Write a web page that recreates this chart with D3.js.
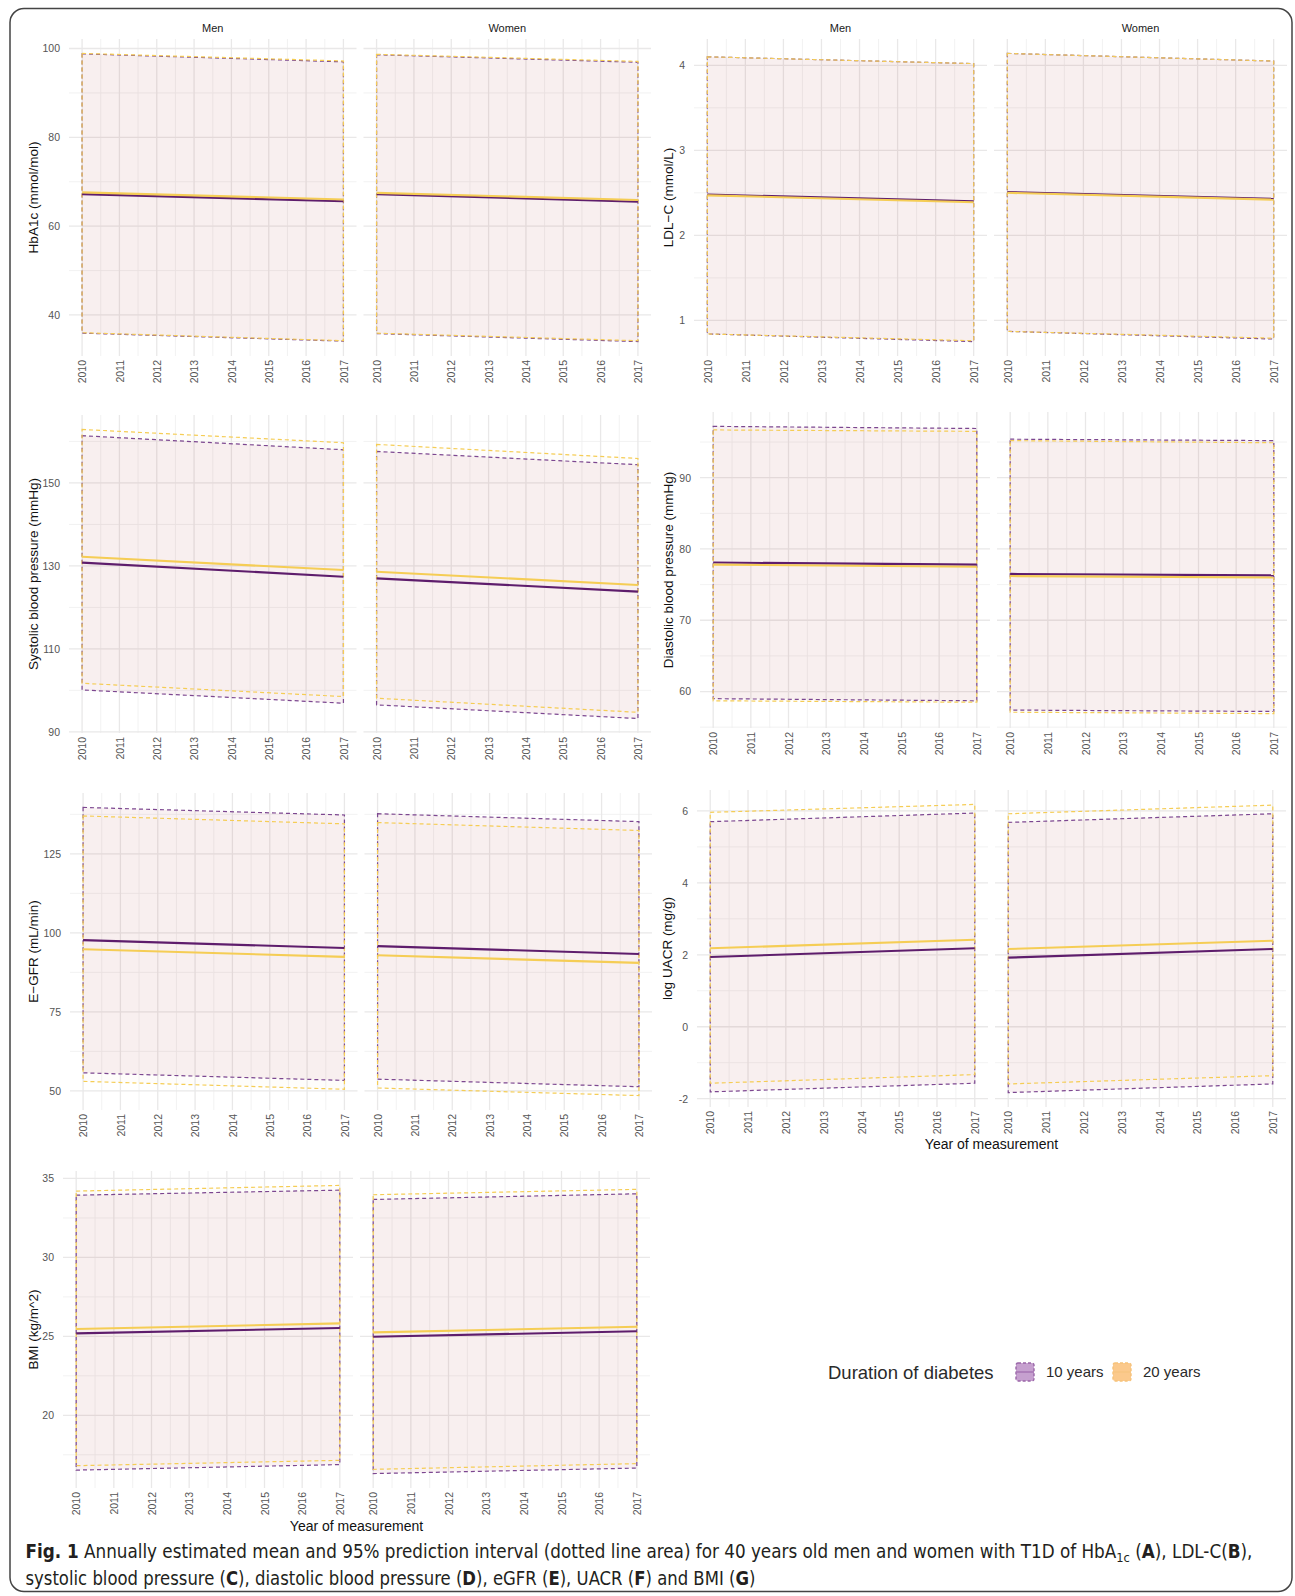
<!DOCTYPE html>
<html><head><meta charset="utf-8">
<script src="https://cdn.jsdelivr.net/npm/d3@7"></script>
<style>
html,body{margin:0;padding:0;background:#fff;}
svg{display:block;}
text{font-family:"Liberation Sans", Arial, sans-serif;}
</style></head><body>
<svg id="fig" width="1295" height="1596"></svg>
<script>
// ---------------- DATA ----------------
const yearTicks = [2010, 2011, 2012, 2013, 2014, 2015, 2016, 2017];
const sexes = ["Men", "Women"];
const durations = ["10 years", "20 years"];
// rows: [sex, duration, year, mean, lower 95% PI, upper 95% PI]
const hba1cRows = [
  ["Men", "10 years", 2010, 67.2, 35.9, 98.8], ["Men", "10 years", 2017, 65.6, 34.1, 97.0],
  ["Men", "20 years", 2010, 67.6, 36.0, 98.9], ["Men", "20 years", 2017, 66.0, 34.2, 97.2],
  ["Women", "10 years", 2010, 67.2, 35.8, 98.6], ["Women", "10 years", 2017, 65.5, 34.0, 96.9],
  ["Women", "20 years", 2010, 67.5, 35.9, 98.7], ["Women", "20 years", 2017, 65.9, 34.2, 97.1]
];
const ldlRows = [
  ["Men", "10 years", 2010, 2.48, 0.84, 4.10], ["Men", "10 years", 2017, 2.40, 0.75, 4.02],
  ["Men", "20 years", 2010, 2.47, 0.84, 4.10], ["Men", "20 years", 2017, 2.39, 0.76, 4.02],
  ["Women", "10 years", 2010, 2.51, 0.87, 4.14], ["Women", "10 years", 2017, 2.43, 0.78, 4.05],
  ["Women", "20 years", 2010, 2.50, 0.87, 4.14], ["Women", "20 years", 2017, 2.42, 0.79, 4.05]
];
const sbpRows = [
  ["Men", "10 years", 2010, 130.8, 100.1, 161.4], ["Men", "10 years", 2017, 127.4, 96.9, 158.0],
  ["Men", "20 years", 2010, 132.2, 101.7, 162.9], ["Men", "20 years", 2017, 129.0, 98.5, 159.7],
  ["Women", "10 years", 2010, 127.0, 96.5, 157.6], ["Women", "10 years", 2017, 123.8, 93.2, 154.4],
  ["Women", "20 years", 2010, 128.6, 98.1, 159.3], ["Women", "20 years", 2017, 125.4, 94.7, 155.9]
];
const dbpRows = [
  ["Men", "10 years", 2010, 78.1, 59.0, 97.2], ["Men", "10 years", 2017, 77.8, 58.7, 96.9],
  ["Men", "20 years", 2010, 77.8, 58.7, 96.7], ["Men", "20 years", 2017, 77.5, 58.5, 96.5],
  ["Women", "10 years", 2010, 76.5, 57.4, 95.4], ["Women", "10 years", 2017, 76.3, 57.2, 95.2],
  ["Women", "20 years", 2010, 76.2, 57.1, 95.2], ["Women", "20 years", 2017, 76.0, 56.9, 94.9]
];
const egfrRows = [
  ["Men", "10 years", 2010, 97.7, 55.7, 139.7], ["Men", "10 years", 2017, 95.2, 53.3, 137.3],
  ["Men", "20 years", 2010, 94.8, 53.0, 137.0], ["Men", "20 years", 2017, 92.4, 50.5, 134.5],
  ["Women", "10 years", 2010, 95.8, 53.7, 137.7], ["Women", "10 years", 2017, 93.3, 51.3, 135.2],
  ["Women", "20 years", 2010, 92.9, 50.9, 134.9], ["Women", "20 years", 2017, 90.5, 48.5, 132.4]
];
const uacrRows = [
  ["Men", "10 years", 2010, 1.94, -1.81, 5.70], ["Men", "10 years", 2017, 2.18, -1.57, 5.94],
  ["Men", "20 years", 2010, 2.18, -1.57, 5.96], ["Men", "20 years", 2017, 2.42, -1.33, 6.18],
  ["Women", "10 years", 2010, 1.92, -1.83, 5.68], ["Women", "10 years", 2017, 2.16, -1.59, 5.92],
  ["Women", "20 years", 2010, 2.16, -1.59, 5.92], ["Women", "20 years", 2017, 2.39, -1.36, 6.16]
];
const bmiRows = [
  ["Men", "10 years", 2010, 25.19, 16.53, 33.94], ["Men", "10 years", 2017, 25.53, 16.88, 34.26],
  ["Men", "20 years", 2010, 25.47, 16.81, 34.20], ["Men", "20 years", 2017, 25.82, 17.15, 34.56],
  ["Women", "10 years", 2010, 24.98, 16.31, 33.67], ["Women", "10 years", 2017, 25.32, 16.66, 34.03],
  ["Women", "20 years", 2010, 25.25, 16.58, 33.97], ["Women", "20 years", 2017, 25.61, 16.94, 34.31]
];
const hba1cTicks = [40, 60, 80, 100];
const ldlTicks = [1, 2, 3, 4];
const sbpTicks = [90, 110, 130, 150];
const dbpTicks = [60, 70, 80, 90];
const egfrTicks = [50, 75, 100, 125];
const uacrTicks = [-2, 0, 2, 4, 6];
const bmiTicks = [20, 25, 30, 35];

// ---------------- LAYOUT / STYLE ----------------
const panels = [
  {rows: hba1cRows, ticks: hba1cTicks, title: "HbA1c (mmol/mol)", left: 69, right: 651, top: 39, bottom: 356, titleX: 33, strips: true},
  {rows: ldlRows, ticks: ldlTicks, title: "LDL\u2212C (mmol/L)", left: 694, right: 1287, top: 39, bottom: 356, titleX: 668, strips: true},
  {rows: sbpRows, ticks: sbpTicks, title: "Systolic blood pressure (mmHg)", left: 69, right: 651, top: 415, bottom: 733, titleX: 33},
  {rows: dbpRows, ticks: dbpTicks, title: "Diastolic blood pressure (mmHg)", left: 700, right: 1287, top: 412, bottom: 728, titleX: 668},
  {rows: egfrRows, ticks: egfrTicks, title: "E\u2212GFR (mL/min)", left: 70, right: 652, top: 793, bottom: 1110, titleX: 33},
  {rows: uacrRows, ticks: uacrTicks, title: "log UACR (mg/g)", left: 697, right: 1286, top: 790, bottom: 1107, titleX: 667, xTitleY: 1144},
  {rows: bmiRows, ticks: bmiTicks, title: "BMI (kg/m^2)", left: 63, right: 650, top: 1171, bottom: 1488, titleX: 33, xTitleY: 1526}
];
const lineColor = {"10 years": "#5e1d6c", "20 years": "#f5cd55"};
const dashColor = {"10 years": "#7c4790", "20 years": "#f5cd55"};
const fillColor = {"10 years": "#a0284a", "20 years": "#e0a040"};
const fillOpacity = {"10 years": 0.065, "20 years": 0.02};

const svg = d3.select("#fig");
svg.append("rect").attr("width", 1295).attr("height", 1596).attr("fill", "#fff");

function drawPanel(cfg) {
  const g = svg.append("g");
  const vals = cfg.rows.flatMap(r => [r[3], r[4], r[5]]);
  const [mn, mx] = d3.extent(vals);
  const pad = (mx - mn) * 0.05;
  const y = d3.scaleLinear().domain([mn - pad, mx + pad]).range([cfg.bottom, cfg.top]);
  const step = cfg.ticks[1] - cfg.ticks[0];
  const ext = [cfg.ticks[0] - step, ...cfg.ticks, cfg.ticks[cfg.ticks.length - 1] + step];
  const yMinor = d3.pairs(ext).map(([a, b]) => (a + b) / 2).filter(v => v > y.domain()[0] && v < y.domain()[1]);
  const xMinor = d3.pairs(yearTicks).map(([a, b]) => (a + b) / 2);
  const gap = 7;
  const fw = (cfg.right - cfg.left - gap) / 2;

  sexes.forEach((sex, i) => {
    const x0 = cfg.left + i * (fw + gap);
    const xd = [yearTicks[0], yearTicks[yearTicks.length - 1]];
    const xp = (xd[1] - xd[0]) * 0.05;
    const x = d3.scaleLinear().domain([xd[0] - xp, xd[1] + xp]).range([x0, x0 + fw]);
    const fg = g.append("g");
    // minor grid
    fg.selectAll(".hmin").data(yMinor).join("line")
      .attr("x1", x0).attr("x2", x0 + fw).attr("y1", d => y(d)).attr("y2", d => y(d))
      .attr("stroke", "#f1f0f0").attr("stroke-width", 0.9);
    fg.selectAll(".vmin").data(xMinor).join("line")
      .attr("y1", cfg.top).attr("y2", cfg.bottom).attr("x1", d => x(d)).attr("x2", d => x(d))
      .attr("stroke", "#f1f0f0").attr("stroke-width", 0.9);
    // major grid
    fg.selectAll(".hmaj").data(cfg.ticks).join("line")
      .attr("x1", x0).attr("x2", x0 + fw).attr("y1", d => y(d)).attr("y2", d => y(d))
      .attr("stroke", "#e9e8e8").attr("stroke-width", 1.3);
    fg.selectAll(".vmaj").data(yearTicks).join("line")
      .attr("y1", cfg.top).attr("y2", cfg.bottom).attr("x1", d => x(d)).attr("x2", d => x(d))
      .attr("stroke", "#e9e8e8").attr("stroke-width", 1.3);

    const series = durations.map(dur => ({
      dur,
      pts: cfg.rows.filter(r => r[0] === sex && r[1] === dur).sort((a, b) => a[2] - b[2])
    }));
    // ribbon fills
    const area = d3.area().x(r => x(r[2])).y0(r => y(r[4])).y1(r => y(r[5]));
    series.forEach(s => {
      fg.append("path").attr("d", area(s.pts))
        .attr("fill", fillColor[s.dur]).attr("fill-opacity", fillOpacity[s.dur]);
    });
    // ribbon dashed outlines (full polygon)
    series.forEach(s => {
      const poly = [...s.pts.map(r => [x(r[2]), y(r[5])]), ...s.pts.slice().reverse().map(r => [x(r[2]), y(r[4])])];
      fg.append("path").attr("d", d3.line()(poly) + "Z")
        .attr("fill", "none").attr("stroke", dashColor[s.dur]).attr("stroke-width", 1.2)
        .attr("stroke-dasharray", "4,3");
    });
    // mean lines
    const line = d3.line().x(r => x(r[2])).y(r => y(r[3]));
    series.forEach(s => {
      fg.append("path").attr("d", line(s.pts))
        .attr("fill", "none").attr("stroke", lineColor[s.dur]).attr("stroke-width", 2.1);
    });

    // x axis (rotated labels)
    const xa = fg.append("g").attr("transform", `translate(0,${cfg.bottom})`)
      .call(d3.axisBottom(x).tickValues(yearTicks).tickSize(0).tickFormat(d => String(d)));
    xa.select(".domain").remove();
    xa.selectAll("text")
      .attr("transform", "rotate(-90)").attr("x", -4).attr("y", 0).attr("dy", "0.35em")
      .style("text-anchor", "end").style("font-size", "10.5px").style("fill", "#555")
      .style("font-family", "'Liberation Sans', Arial, sans-serif");

    if (cfg.strips) {
      fg.append("text").attr("x", x0 + fw / 2).attr("y", 28.5).attr("dy", "0.35em")
        .attr("text-anchor", "middle").style("font-size", "11px").style("fill", "#1a1a1a").text(sex);
    }
    if (i === 0) {
      const ya = fg.append("g").attr("transform", `translate(${x0},0)`)
        .call(d3.axisLeft(y).tickValues(cfg.ticks).tickSize(0).tickPadding(9).tickFormat(d => String(d)));
      ya.select(".domain").remove();
      ya.selectAll("text").style("font-size", "10.5px").style("fill", "#555")
        .style("font-family", "'Liberation Sans', Arial, sans-serif");
    }
  });

  // y title
  g.append("text").attr("transform", `translate(${cfg.titleX},${(cfg.top + cfg.bottom) / 2}) rotate(-90)`)
    .attr("text-anchor", "middle").attr("dy", "0.35em")
    .style("font-size", "13.5px").style("fill", "#111").text(cfg.title);
  if (cfg.xTitleY) {
    g.append("text").attr("x", (cfg.left + cfg.right) / 2).attr("y", cfg.xTitleY).attr("dy", "0.35em")
      .attr("text-anchor", "middle").style("font-size", "14px").style("fill", "#111").text("Year of measurement");
  }
}
panels.forEach(drawPanel);

// ---------------- LEGEND ----------------
const lg = svg.append("g");
lg.append("text").attr("x", 828).attr("y", 1373).attr("dy", "0.35em")
  .style("font-size", "18.5px").style("fill", "#2a2a2a").text("Duration of diabetes");
const keyFill = {"10 years": "#c6a0cf", "20 years": "#fbc98c"};
const keyStroke = {"10 years": "#9a66a8", "20 years": "#f6c27a"};
const keyX = d3.scaleOrdinal().domain(durations).range([1016, 1113]);
durations.forEach(dur => {
  const kx = keyX(dur);
  lg.append("rect").attr("x", kx).attr("y", 1363).attr("width", 18).attr("height", 18).attr("rx", 2)
    .attr("fill", keyFill[dur]).attr("stroke", keyStroke[dur]).attr("stroke-width", 1.4)
    .attr("stroke-dasharray", "3,2");
  lg.append("line").attr("x1", kx).attr("x2", kx + 18).attr("y1", 1372).attr("y2", 1372)
    .attr("stroke", dur === "10 years" ? "#a877b4" : "#f8c682").attr("stroke-width", 1.6);
  lg.append("text").attr("x", kx + 30).attr("y", 1372).attr("dy", "0.35em")
    .style("font-size", "15px").style("fill", "#2a2a2a").text(dur);
});

// ---------------- FRAME + CAPTION ----------------
svg.append("rect").attr("x", 10).attr("y", 8.5).attr("width", 1282).attr("height", 1583).attr("rx", 14)
  .attr("fill", "none").attr("stroke", "#444").attr("stroke-width", 1.5);

function captionLine(parts, x0, yb, target) {
  const t = svg.append("text").attr("x", 0).attr("y", 0)
    .style("font-family", "'Liberation Sans Narrow','DejaVu Sans Condensed','Liberation Sans',sans-serif")
    .style("font-size", "19px").style("fill", "#231f20");
  parts.forEach(p => {
    const ts = t.append("tspan").text(p.t);
    if (p.b) ts.style("font-weight", "bold");
    if (p.sub) ts.attr("dy", 4).style("font-size", "13px");
    if (p.back) ts.attr("dy", -4);
  });
  const w = t.node().getComputedTextLength();
  t.attr("transform", `translate(${x0},${yb}) scale(${target / w},1)`);
}
captionLine([
  {t: "Fig. 1", b: true},
  {t: "  Annually estimated mean and 95% prediction interval (dotted line area) for 40 years old men and women with T1D of HbA"},
  {t: "1c", sub: true},
  {t: " (", back: true}, {t: "A", b: true}, {t: "), LDL-C("}, {t: "B", b: true}, {t: "),"}
], 25.5, 1558, 1228);
captionLine([
  {t: "systolic blood pressure ("}, {t: "C", b: true}, {t: "), diastolic blood pressure ("}, {t: "D", b: true},
  {t: "), eGFR ("}, {t: "E", b: true}, {t: "), UACR ("}, {t: "F", b: true}, {t: ") and BMI ("}, {t: "G", b: true}, {t: ")"}
], 25.5, 1585, 730);
</script>
</body></html>
